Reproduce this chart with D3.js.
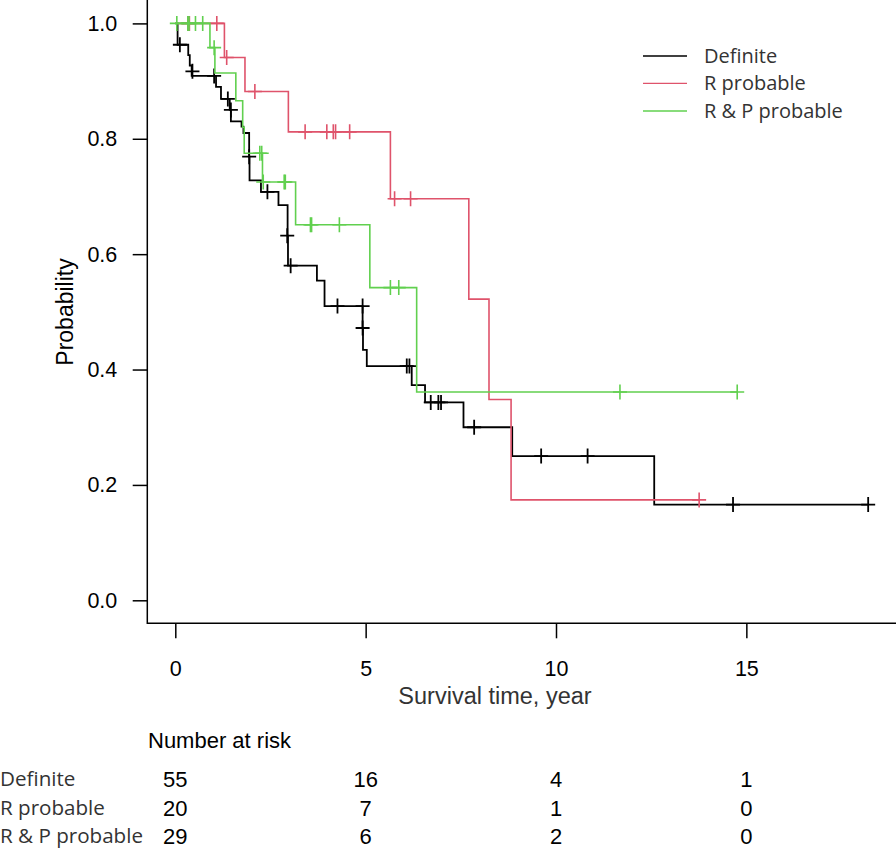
<!DOCTYPE html>
<html><head><meta charset="utf-8">
<script src="https://cdn.jsdelivr.net/npm/d3@7"></script>
<style>body{margin:0;background:#fff}svg{display:block}</style>
</head><body>
<svg id="chart" width="896" height="849"></svg>
<script>
// ---------- data ----------
const groups = ["Definite", "R probable", "R & P probable"];

const definiteStepTimes = [0.06,0.34,0.38,0.43,1.07,1.20,1.43,1.46,1.74,1.79,1.94,1.95,2.25,2.71,2.95,2.96,3.72,3.92,4.92,4.93,5.03,6.21,6.56,7.57,8.85,12.58];
const definiteStepSurv  = [0.963,0.945,0.927,0.909,0.890,0.869,0.850,0.830,0.821,0.810,0.769,0.728,0.708,0.685,0.632,0.580,0.554,0.510,0.472,0.434,0.406,0.373,0.343,0.300,0.250,0.166];
const definiteCensorTimes = [0.12,0.45,1.02,1.38,1.46,1.94,2.42,2.94,3.03,4.26,4.92,4.92,6.08,6.15,6.71,6.91,6.98,7.85,9.61,10.83,14.65,18.20];
const definiteCensorSurv  = [0.963,0.917,0.909,0.869,0.850,0.769,0.708,0.632,0.580,0.510,0.510,0.472,0.406,0.406,0.343,0.343,0.343,0.300,0.250,0.250,0.166,0.166];
const definiteEnd = 18.20;

const rProbStepTimes = [1.29,1.83,2.97,5.65,7.71,8.24,8.82];
const rProbStepSurv  = [0.941,0.882,0.812,0.696,0.522,0.348,0.174];
const rProbCensorTimes = [0.33,0.37,1.09,1.35,2.09,3.41,3.98,4.15,4.21,4.58,5.76,6.18,13.76];
const rProbCensorSurv  = [1,1,1,0.941,0.882,0.812,0.812,0.812,0.812,0.812,0.696,0.696,0.174];
const rProbEnd = 13.76;

const rpProbStepTimes = [0.91,1.04,1.59,1.77,1.81,2.29,3.16,5.11,6.34];
const rpProbStepSurv  = [0.958,0.914,0.866,0.820,0.775,0.725,0.651,0.542,0.361];
const rpProbCensorTimes = [0.04,0.33,0.36,0.53,0.72,1.02,2.22,2.27,2.31,2.86,2.89,3.55,3.58,4.31,5.65,5.87,11.68,14.76];
const rpProbCensorSurv  = [1,1,1,1,1,0.958,0.775,0.775,0.725,0.725,0.725,0.651,0.651,0.651,0.542,0.542,0.361,0.361];
const rpProbEnd = 14.76;

const xTickValues = [0, 5, 10, 15];
const yTickValues = [0, 0.2, 0.4, 0.6, 0.8, 1.0];
const riskTimes = [0, 5, 10, 15];
const riskDefinite = [55, 16, 4, 1];
const riskRProb = [20, 7, 1, 0];
const riskRPProb = [29, 6, 2, 0];

// ---------- styles ----------
const colors = ["#000000", "#DF536B", "#61D04F"];
const axisFont = "'Liberation Sans', Arial, sans-serif";
const legendFont = "'Open Sans', sans-serif";

const series = [
  {name: groups[0], t: definiteStepTimes, s: definiteStepSurv, ct: definiteCensorTimes, cs: definiteCensorSurv, end: definiteEnd, risk: riskDefinite},
  {name: groups[1], t: rProbStepTimes, s: rProbStepSurv, ct: rProbCensorTimes, cs: rProbCensorSurv, end: rProbEnd, risk: riskRProb},
  {name: groups[2], t: rpProbStepTimes, s: rpProbStepSurv, ct: rpProbCensorTimes, cs: rpProbCensorSurv, end: rpProbEnd, risk: riskRPProb}
];

const svg = d3.select("#chart");
const x = d3.scaleLinear().domain([0, 15]).range([175.3, 746.35]);
const y = d3.scaleLinear().domain([0, 1]).range([600.3, 23.4]);
const axisX = 147.3, axisY = 623.3;

// L-shaped frame
svg.append("path")
  .attr("d", `M${axisX},0 V${axisY} H896`)
  .attr("fill", "none").attr("stroke", "#000").attr("stroke-width", 1.5);

// y axis
const gy = svg.append("g").attr("transform", `translate(${axisX},0)`)
  .call(d3.axisLeft(y).tickValues(yTickValues).tickFormat(d3.format(".1f")).tickSize(14.6).tickPadding(15.4));
gy.select(".domain").remove();
gy.selectAll("line").attr("stroke", "#000").attr("stroke-width", 1.5);
gy.selectAll("text").attr("font-family", axisFont).attr("font-size", 21.5).attr("fill", "#000");

// x axis
const gx = svg.append("g").attr("transform", `translate(0,${axisY})`)
  .call(d3.axisBottom(x).tickValues(xTickValues).tickFormat(d3.format("d")).tickSize(15).tickPadding(22));
gx.select(".domain").remove();
gx.selectAll("line").attr("stroke", "#000").attr("stroke-width", 1.5);
gx.selectAll("text").attr("font-family", axisFont).attr("font-size", 21.5).attr("fill", "#000");

// axis titles
svg.append("text").attr("x", 495).attr("y", 704).attr("text-anchor", "middle")
  .attr("font-family", axisFont).attr("font-size", 23.5).attr("fill", "#333")
  .text("Survival time, year");
svg.append("text").attr("transform", "translate(73,312) rotate(-90)").attr("text-anchor", "middle")
  .attr("font-family", axisFont).attr("font-size", 23).attr("fill", "#000")
  .text("Probability");

// curves
const line = d3.line().x(d => x(d[0])).y(d => y(d[1])).curve(d3.curveStepAfter);
series.forEach((sr, i) => {
  const pts = [[0, 1]];
  sr.t.forEach((t, k) => pts.push([t, sr.s[k]]));
  pts.push([sr.end, sr.s[sr.s.length - 1]]);
  svg.append("path").datum(pts).attr("d", line)
    .attr("fill", "none").attr("stroke", colors[i]).attr("stroke-width", i === 0 ? 1.8 : 1.6);
  const cens = sr.ct.map((t, k) => [t, sr.cs[k]]);
  svg.append("g").selectAll("path").data(cens).join("path")
    .attr("d", d => { const cx = x(d[0]), cy = y(d[1]); return `M${cx-7},${cy}H${cx+7}M${cx},${cy-7.5}V${cy+7.5}`; })
    .attr("fill", "none").attr("stroke", colors[i]).attr("stroke-width", i === 0 ? 1.8 : 1.6);
});

// legend
const legendY = [56, 83.3, 111];
series.forEach((sr, i) => {
  svg.append("line").attr("x1", 643).attr("x2", 687).attr("y1", legendY[i]).attr("y2", legendY[i])
    .attr("stroke", colors[i]).attr("stroke-width", 1.3);
  svg.append("text").attr("x", 704).attr("y", legendY[i]).attr("dy", "0.35em")
    .attr("font-family", legendFont).attr("font-size", 20).attr("fill", "#333")
    .text(sr.name);
});

// number at risk table
svg.append("text").attr("x", 148).attr("y", 740).attr("dy", "0.35em")
  .attr("font-family", axisFont).attr("font-size", 22).attr("fill", "#000")
  .text("Number at risk");
const rowY = [779, 808, 836];
series.forEach((sr, i) => {
  svg.append("text").attr("x", 0).attr("y", rowY[i]).attr("dy", "0.35em")
    .attr("font-family", legendFont).attr("font-size", 20.6).attr("fill", "#333")
    .text(sr.name);
  svg.append("g").selectAll("text").data(sr.risk).join("text")
    .attr("x", (d, k) => x(riskTimes[k])).attr("y", rowY[i]).attr("dy", "0.35em")
    .attr("text-anchor", "middle")
    .attr("font-family", axisFont).attr("font-size", 22).attr("fill", "#000")
    .text(d => d);
});
</script>
</body></html>
